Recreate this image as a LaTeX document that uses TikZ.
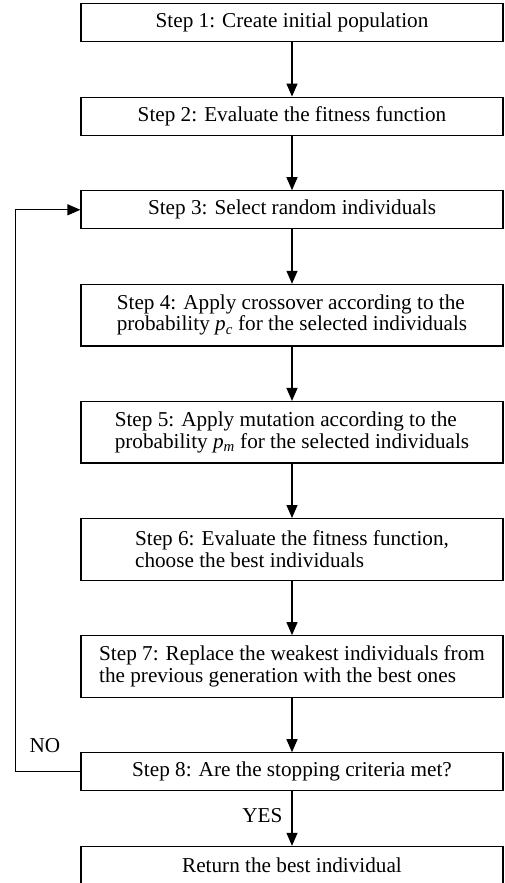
\documentclass[tikz,border=0pt]{standalone}
\usepackage{fontspec}
\setmainfont{Liberation Serif}
\usetikzlibrary{arrows.meta,positioning}

\begin{document}
\begin{tikzpicture}[x=1pt,y=1pt,
    node distance=54.4pt,
    stepbox/.style={draw, line width=1.2pt, minimum width=422pt,
      minimum height=38pt, inner sep=0pt, align=left,
      font=\fontsize{21.2}{21.5}\selectfont},
    stepboxtwo/.style={stepbox, minimum height=61.5pt},
    flow/.style={line width=1.2pt, -{Triangle[length=13pt,width=11pt]}},
    lbl/.style={inner sep=0pt, font=\fontsize{21.2}{21.5}\selectfont}]
  \useasboundingbox (0,0) rectangle (505,-883);
  % main column of steps
  \node[stepbox, anchor=north] (s1) at (292,-3) {Step 1: Create initial population};
  \node[stepbox, below=of s1] (s2) {Step 2: Evaluate the fitness function};
  \node[stepbox, below=of s2] (s3) {Step 3: Select random individuals};
  \node[stepboxtwo, below=of s3] (s4) {Step 4: Apply crossover according to the\\
    probability \textit{p}\textsubscript{\textit{c}} for the selected individuals};
  \node[stepboxtwo, below=of s4] (s5) {Step 5: Apply mutation according to the\\
    probability \textit{p}\textsubscript{\textit{m}} for the selected individuals};
  \node[stepboxtwo, below=of s5] (s6) {Step 6: Evaluate the fitness function,\\
    choose the best individuals};
  \node[stepboxtwo, below=of s6] (s7) {Step 7: Replace the weakest individuals from\\
    the previous generation with the best ones};
  \node[stepbox, below=of s7] (s8) {Step 8: Are the stopping criteria met?};
  \node[stepbox, below=of s8] (s9) {Return the best individual};
  % straight arrows
  \foreach \a/\b in {s1/s2,s2/s3,s3/s4,s4/s5,s5/s6,s6/s7,s7/s8} {
    \draw[flow] (\a) -- (\b);
  }
  \draw[flow] (s8) -- node[lbl, left=9pt, yshift=3pt] {YES} (s9);
  % loop back when criteria not met
  \draw[flow] (s8.west) -- ++(-65,0) coordinate (back) |- (s3.west);
  \node[lbl, above right=19pt and 14pt of back] (no) {NO};
\end{tikzpicture}
\end{document}
